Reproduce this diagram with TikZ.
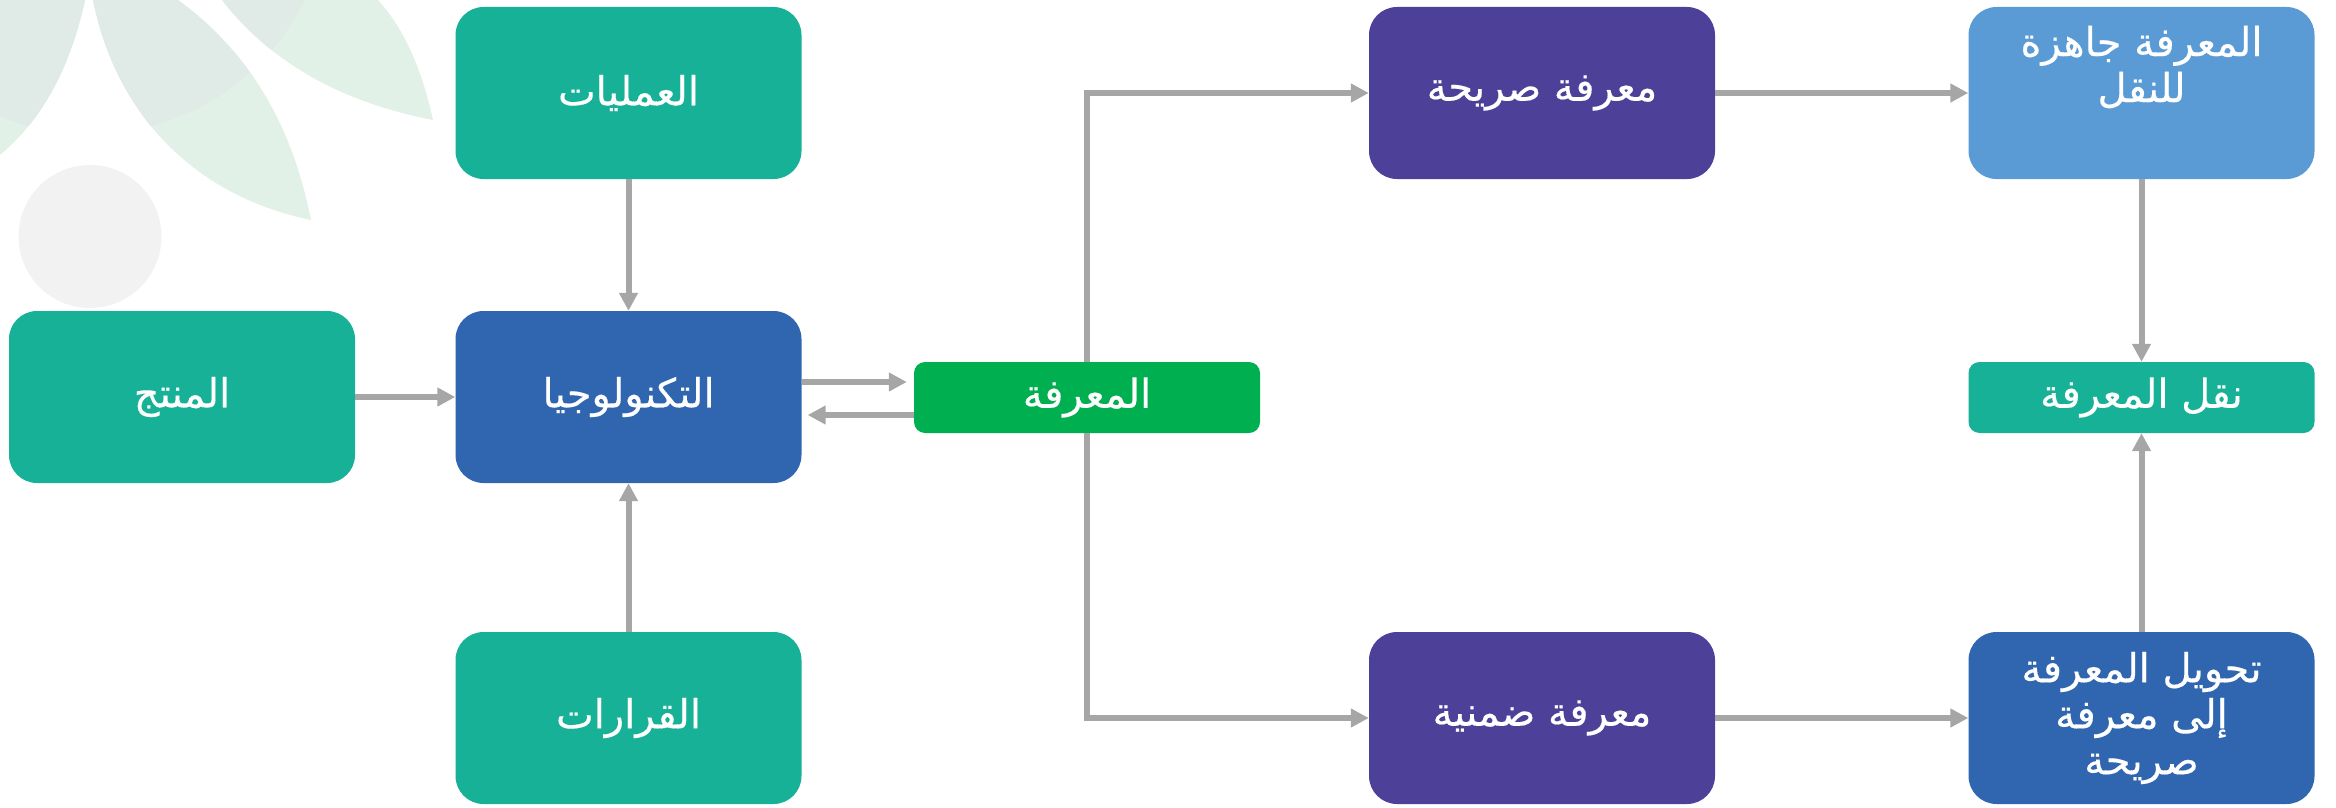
\documentclass[tikz,border=0pt]{standalone}
\usepackage{fontspec}
\usetikzlibrary{arrows.meta,calc}
\TeXXeTstate=1
\newfontfamily\arabicfont[Script=Arabic,FakeBold=0.35]{DejaVu Sans}
\newcommand{\ar}[1]{\beginR #1\endR}
\definecolor{tealbox}{HTML}{17B198}
\definecolor{bluebox}{HTML}{3066B0}
\definecolor{greenbox}{HTML}{00B050}
\definecolor{purplebox}{HTML}{4C4099}
\definecolor{lightbox}{HTML}{5B9BD5}
\definecolor{conn}{HTML}{A6A6A6}
\definecolor{leaflight}{HTML}{E1F1E8}
\definecolor{leafdark}{HTML}{E0EAE6}
\definecolor{disc}{HTML}{F2F2F2}
\tikzset{
  labelfont/.style={font=\arabicfont\fontsize{40}{46}\selectfont},
  bigbox/.style={rounded corners=28pt,minimum width=346pt,minimum height=172pt,inner sep=0pt,text=white,align=center,labelfont},
  smallbox/.style={rounded corners=11pt,minimum width=346pt,minimum height=71pt,inner sep=0pt,text=white,align=center,labelfont},
  lab/.style={inner sep=0pt,text=white,align=center,labelfont},
  link/.style={draw=conn,line width=6pt,-{Triangle[length=18pt,width=18pt]}}
}
\newcommand{\leafpaths}{
  (0,155) .. controls (40,122) and (70,70) .. (85,0) -- (0,0) -- cycle
  (93,0) .. controls (115,110) and (190,195) .. (311,220) .. controls (295,140) and (260,60) .. (178,0) -- cycle
  (222,0) .. controls (265,55) and (330,100) .. (433,120) .. controls (422,70) and (405,30) .. (378,0) -- cycle
}
\begin{document}
\begin{tikzpicture}[x=1pt,y=-1pt]
\useasboundingbox (0,0) rectangle (2336,808);
\fill[leaflight] \leafpaths;
\begin{scope}
  \clip \leafpaths;
  \fill[leafdark] (90,-105) circle[radius=239];
\end{scope}
\fill[disc] (90,236.5) circle[radius=71.5];

\node[bigbox,fill=tealbox] (ops) at (628.5,93) {\ar{العمليات}};
\node[bigbox,fill=bluebox] (tech) at (628.5,397) {\ar{التكنولوجيا}};
\node[bigbox,fill=tealbox] (prod) at (182,397) {\ar{المنتج}};
\node[bigbox,fill=tealbox] (dec) at (628.5,718) {\ar{القرارات}};
\node[smallbox,fill=greenbox] (know) at (1087,397.5) {\ar{المعرفة}};
\node[bigbox,fill=purplebox] (expl) at (1542,93) {\ar{معرفة صريحة}};
\node[bigbox,fill=purplebox] (tacit) at (1542,718) {\ar{معرفة ضمنية}};
\node[bigbox,fill=lightbox] (ready) at (2141.5,93) {};
\node[lab] (readyt) at ($(ready.center)+(0,-26)$) {\ar{المعرفة جاهزة}\\\ar{للنقل}};
\node[smallbox,fill=tealbox] (trans) at (2141.5,397.5) {\ar{نقل المعرفة}};
\node[bigbox,fill=bluebox] (conv) at (2141.5,718) {\ar{تحويل المعرفة}\\\ar{إلى معرفة}\\\ar{صريحة}};

\draw[link] (ops) -- (tech);
\draw[link] (dec) -- (tech);
\draw[link] (prod) -- (tech);
\draw[link] ($(tech.east)+(0,-15)$) -- ($(know.west)+(-7,-15.5)$);
\draw[link] ($(know.west)+(0,17.5)$) -- ($(tech.east)+(6,18)$);
\draw[link] (know.north) |- (expl.west);
\draw[link] (know.south) |- (tacit.west);
\draw[link] (expl) -- (ready);
\draw[link] (tacit) -- (conv);
\draw[link] (ready) -- (trans);
\draw[link] (conv) -- (trans);
\end{tikzpicture}
\end{document}
